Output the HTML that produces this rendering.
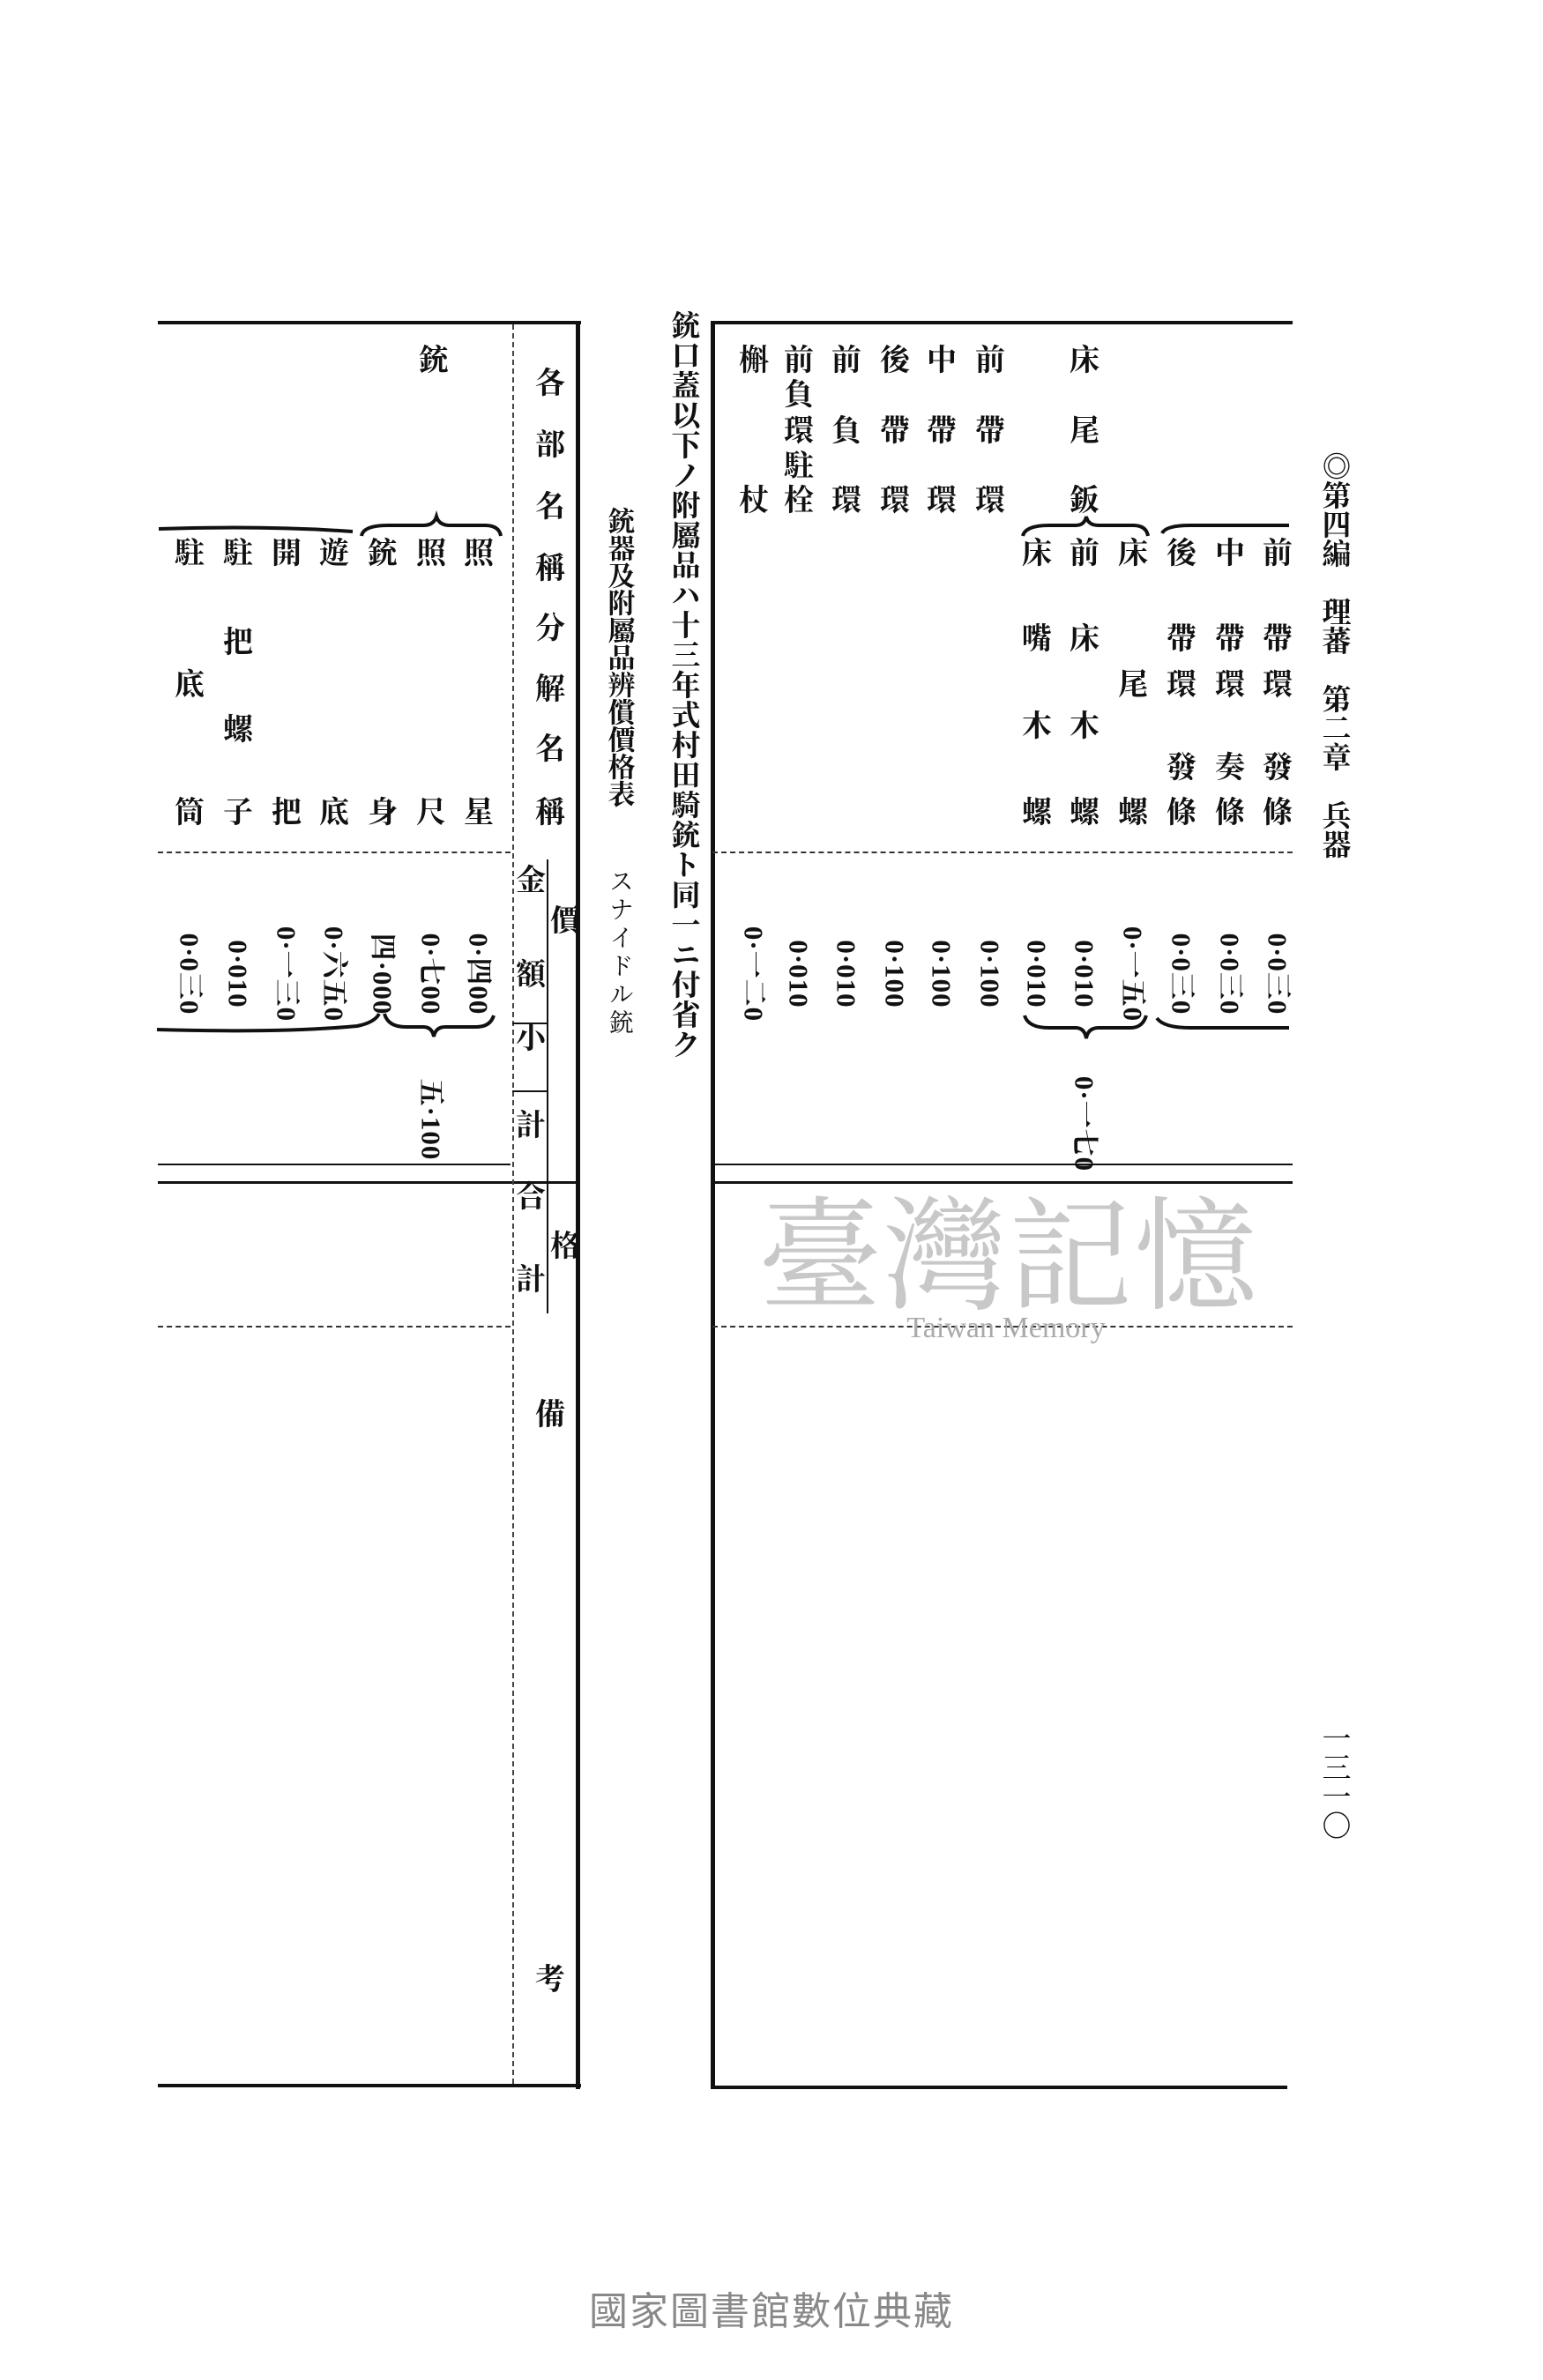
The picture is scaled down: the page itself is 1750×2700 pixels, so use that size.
<!DOCTYPE html>
<html><head><meta charset="utf-8"><style>
html,body{margin:0;padding:0;background:#fff}
body{width:1750px;height:2700px;position:relative;overflow:hidden;font-family:"Liberation Serif","Noto Serif CJK SC","Noto Sans CJK JP",serif;color:#111}
.c{position:absolute;font-size:34px;font-weight:bold;line-height:1;transform:translate(-50%,-50%)}
.h{position:absolute;font-size:32px;line-height:1;transform:translate(-50%,0);writing-mode:vertical-rl;font-weight:bold}
.p{position:absolute;font-size:31px;line-height:1;writing-mode:vertical-rl;text-orientation:sideways;transform:translate(-50%,-50%);font-weight:bold;letter-spacing:1px}
.l{position:absolute;background:#111}
.d{position:absolute;border-top:2px dashed #333;height:0}
.v{position:absolute;border-left:2px dashed #444;width:0}
</style></head><body>
<div class="l" style="left:179px;top:364px;width:480px;height:4px"></div>
<div class="l" style="left:808px;top:364px;width:658px;height:4px"></div>
<div class="l" style="left:653px;top:364px;width:5px;height:2006px"></div>
<div class="l" style="left:806px;top:364px;width:5px;height:2006px"></div>
<div class="l" style="left:179px;top:2364px;width:480px;height:4px"></div>
<div class="l" style="left:806px;top:2366px;width:654px;height:4px"></div>
<div class="d" style="left:179px;top:966px;width:400px"></div>
<div class="d" style="left:808px;top:966px;width:658px"></div>
<div class="l" style="left:179px;top:1320px;width:400px;height:2px"></div>
<div class="l" style="left:179px;top:1340px;width:476px;height:3px"></div>
<div class="l" style="left:808px;top:1320px;width:658px;height:2px"></div>
<div class="l" style="left:808px;top:1340px;width:658px;height:3px"></div>
<div class="d" style="left:179px;top:1504px;width:400px"></div>
<div class="d" style="left:808px;top:1504px;width:658px"></div>
<div class="v" style="left:581px;top:368px;height:1996px"></div>
<div class="l" style="left:620px;top:975px;width:2px;height:515px"></div>
<div class="l" style="left:581px;top:1160px;width:40px;height:2px"></div>
<div class="l" style="left:581px;top:1237px;width:40px;height:2px"></div>

<svg width="1750" height="2700" style="position:absolute;left:0;top:0" fill="none" stroke="#111" stroke-width="4">
<path d="M180 600 Q300 596 400 603"/>
<path d="M410 608 Q412 596 440 596 L480 596 Q492 596 495 586 Q498 596 510 596 L550 596 Q566 596 568 608"/>
<path d="M178 1168 Q320 1172 405 1164 Q425 1160 430 1150"/>
<path d="M436 1150 Q440 1165 460 1165 L480 1165 Q490 1165 492 1176 Q494 1165 505 1165 L540 1165 Q556 1165 560 1152"/>
<path d="M1160 608 Q1163 596 1190 596 L1220 596 Q1230 596 1232 586 Q1234 596 1246 596 L1285 596 Q1300 596 1302 608"/>
<path d="M1318 605 Q1322 596 1350 596 L1462 596"/>
<path d="M1162 1152 Q1166 1166 1190 1166 L1220 1166 Q1230 1166 1232 1178 Q1234 1166 1246 1166 L1282 1166 Q1296 1166 1300 1152"/>
<path d="M1312 1155 Q1320 1166 1350 1166 L1462 1166"/>
</svg>

<div class="c" style="left:492px;top:410px">銃</div>
<div class="c" style="left:543px;top:629px">照</div><div class="c" style="left:543px;top:923px">星</div>
<div class="c" style="left:489px;top:629px">照</div><div class="c" style="left:489px;top:923px">尺</div>
<div class="c" style="left:434px;top:629px">銃</div><div class="c" style="left:434px;top:923px">身</div>
<div class="c" style="left:379px;top:629px">遊</div><div class="c" style="left:379px;top:923px">底</div>
<div class="c" style="left:325px;top:629px">開</div><div class="c" style="left:325px;top:923px">把</div>
<div class="c" style="left:270px;top:629px">駐</div><div class="c" style="left:270px;top:730px">把</div><div class="c" style="left:270px;top:829px">螺</div><div class="c" style="left:270px;top:923px">子</div>
<div class="c" style="left:215px;top:629px">駐</div><div class="c" style="left:215px;top:778px">底</div><div class="c" style="left:215px;top:923px">筒</div>
<div class="c" style="left:624px;top:436px">各</div><div class="c" style="left:624px;top:506px">部</div><div class="c" style="left:624px;top:576px">名</div><div class="c" style="left:624px;top:646px">稱</div><div class="c" style="left:624px;top:714px">分</div><div class="c" style="left:624px;top:783px">解</div><div class="c" style="left:624px;top:851px">名</div><div class="c" style="left:624px;top:923px">稱</div>
<div class="c" style="left:602px;top:1000px">金</div><div class="c" style="left:602px;top:1107px">額</div><div class="c" style="left:602px;top:1179px">小</div><div class="c" style="left:602px;top:1278px">計</div><div class="c" style="left:602px;top:1359px">合</div><div class="c" style="left:602px;top:1453px">計</div>
<div class="c" style="left:641px;top:1046px">價</div><div class="c" style="left:641px;top:1415px">格</div>
<div class="c" style="left:624px;top:1606px">備</div><div class="c" style="left:624px;top:2247px">考</div>
<div class="p" style="left:543px;top:1105px">0·四00</div>
<div class="p" style="left:489px;top:1105px">0·七00</div>
<div class="p" style="left:434px;top:1105px">四·000</div>
<div class="p" style="left:379px;top:1105px">0·六五0</div>
<div class="p" style="left:325px;top:1105px">0·一三0</div>
<div class="p" style="left:270px;top:1105px">0·010</div>
<div class="p" style="left:215px;top:1105px">0·0三0</div>
<div class="p" style="left:489px;top:1270px">五·100</div>
<div class="h" style="left:774px;top:352px;font-size:33px;letter-spacing:1px">銃口蓋以下ノ附屬品ハ十三年式村田騎銃ト同一ニ付省ク</div>
<div class="h" style="left:702px;top:575px;font-size:31px">銃器及附屬品辨償價格表</div>
<div class="h" style="left:702px;top:985px;font-size:28px;font-weight:normal;letter-spacing:4px">スナイドル銃</div>
<div class="c" style="left:1230px;top:410px">床</div><div class="c" style="left:1230px;top:490px">尾</div><div class="c" style="left:1230px;top:569px">鈑</div>
<div class="c" style="left:1123px;top:410px">前</div><div class="c" style="left:1123px;top:490px">帶</div><div class="c" style="left:1123px;top:569px">環</div>
<div class="c" style="left:1068px;top:410px">中</div><div class="c" style="left:1068px;top:490px">帶</div><div class="c" style="left:1068px;top:569px">環</div>
<div class="c" style="left:1015px;top:410px">後</div><div class="c" style="left:1015px;top:490px">帶</div><div class="c" style="left:1015px;top:569px">環</div>
<div class="c" style="left:960px;top:410px">前</div><div class="c" style="left:960px;top:490px">負</div><div class="c" style="left:960px;top:569px">環</div>
<div class="c" style="left:906px;top:410px">前</div><div class="c" style="left:906px;top:449px">負</div><div class="c" style="left:906px;top:490px">環</div><div class="c" style="left:906px;top:530px">駐</div><div class="c" style="left:906px;top:569px">栓</div>
<div class="c" style="left:855px;top:410px">槲</div><div class="c" style="left:855px;top:569px">杖</div>
<div class="c" style="left:1449px;top:629px">前</div><div class="c" style="left:1449px;top:726px">帶</div><div class="c" style="left:1449px;top:778px">環</div><div class="c" style="left:1449px;top:872px">發</div><div class="c" style="left:1449px;top:923px">條</div>
<div class="c" style="left:1395px;top:629px">中</div><div class="c" style="left:1395px;top:726px">帶</div><div class="c" style="left:1395px;top:778px">環</div><div class="c" style="left:1395px;top:872px">奏</div><div class="c" style="left:1395px;top:923px">條</div>
<div class="c" style="left:1340px;top:629px">後</div><div class="c" style="left:1340px;top:726px">帶</div><div class="c" style="left:1340px;top:778px">環</div><div class="c" style="left:1340px;top:872px">發</div><div class="c" style="left:1340px;top:923px">條</div>
<div class="c" style="left:1285px;top:629px">床</div><div class="c" style="left:1285px;top:778px">尾</div><div class="c" style="left:1285px;top:923px">螺</div>
<div class="c" style="left:1230px;top:629px">前</div><div class="c" style="left:1230px;top:726px">床</div><div class="c" style="left:1230px;top:825px">木</div><div class="c" style="left:1230px;top:923px">螺</div>
<div class="c" style="left:1176px;top:629px">床</div><div class="c" style="left:1176px;top:726px">嘴</div><div class="c" style="left:1176px;top:825px">木</div><div class="c" style="left:1176px;top:923px">螺</div>
<div class="p" style="left:1449px;top:1105px">0·0三0</div>
<div class="p" style="left:1395px;top:1105px">0·0三0</div>
<div class="p" style="left:1340px;top:1105px">0·0三0</div>
<div class="p" style="left:1285px;top:1105px">0·一五0</div>
<div class="p" style="left:1230px;top:1105px">0·010</div>
<div class="p" style="left:1176px;top:1105px">0·010</div>
<div class="p" style="left:1123px;top:1105px">0·100</div>
<div class="p" style="left:1068px;top:1105px">0·100</div>
<div class="p" style="left:1015px;top:1105px">0·100</div>
<div class="p" style="left:960px;top:1105px">0·010</div>
<div class="p" style="left:906px;top:1105px">0·010</div>
<div class="p" style="left:855px;top:1105px">0·一二0</div>
<div class="p" style="left:1230px;top:1275px">0·一七0</div>
<div class="h" style="left:1512px;top:512px;font-size:33px">◎第四編　理蕃　第二章　兵器</div>
<div class="h" style="left:1512px;top:1955px;font-size:33px;font-weight:normal">一三一〇</div>
<div style="position:absolute;left:860px;top:1345px;font-size:140px;color:#c8c8c8;font-family:'Noto Serif CJK SC',serif;letter-spacing:2px;line-height:1">臺灣記憶</div>
<div style="position:absolute;left:1141px;top:1488px;transform:translateX(-50%);font-size:34px;color:#aaa;font-family:'Liberation Serif',serif">Taiwan Memory</div>
<div style="position:absolute;left:875px;top:2618px;transform:translate(-50%,-50%);font-size:44px;color:#888;font-family:'Liberation Sans','Noto Sans CJK TC',sans-serif;letter-spacing:2px">國家圖書館數位典藏</div>
</body></html>
